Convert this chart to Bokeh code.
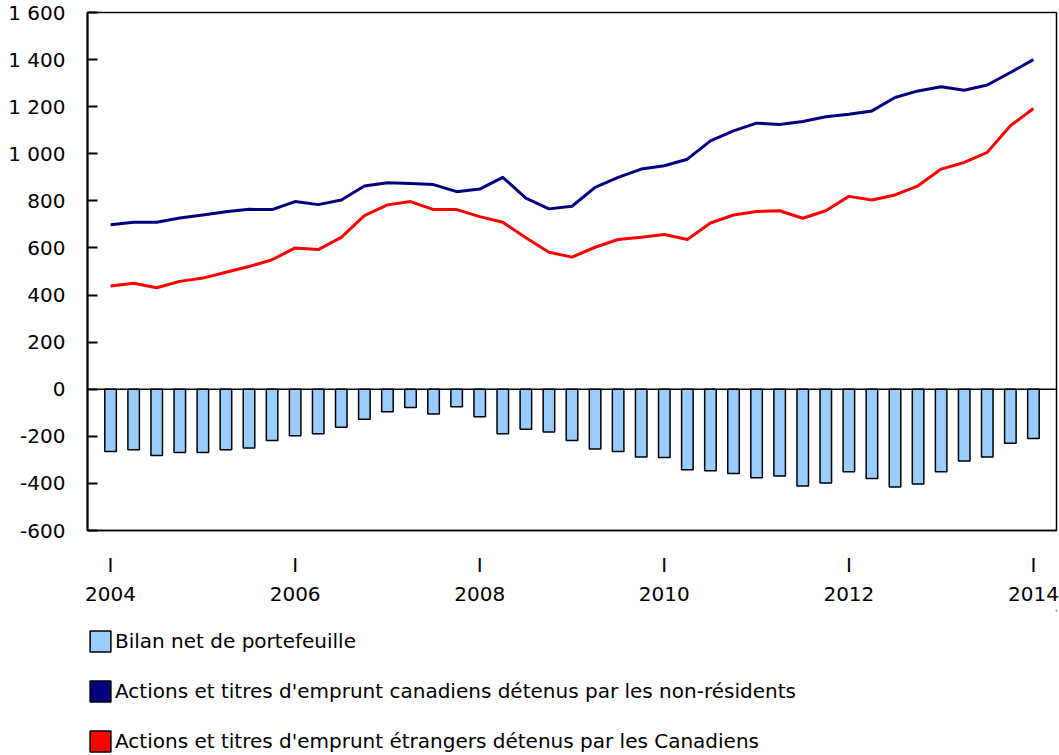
from bokeh.plotting import figure
from bokeh.models import (ColumnDataSource, FixedTicker, LinearAxis, Range1d, Span,
                          Legend, LegendItem)
from bokeh.layouts import column
from bokeh.embed import file_html
from bokeh.resources import INLINE

# Quarterly observations, 2004 Q1 ... 2014 Q1 (index 0 .. 40)
quarters = list(range(41))

bilan_net = [-264, -257, -281, -269, -269, -257, -250, -218, -198, -189, -161, -127, -96,
             -78, -105, -74, -117, -189, -170, -182, -218, -254, -264, -288, -290, -342,
             -346, -358, -376, -369, -411, -398, -350, -379, -415, -403, -350, -305, -288,
             -229, -209]

non_residents = [699, 709, 709, 727, 740, 754, 764, 763, 797, 784, 804, 863, 877,
                 874, 869, 839, 850, 900, 812, 766, 777, 857, 900, 935, 949, 977, 1055,
                 1097, 1130, 1124, 1137, 1157, 1168, 1182, 1239, 1267, 1285, 1270, 1292,
                 1345, 1400]

canadiens = [438, 450, 431, 458, 472, 497, 521, 550, 600, 593, 645, 737, 783,
             797, 763, 763, 733, 709, 643, 582, 561, 603, 636, 645, 657, 636, 706,
             740, 755, 758, 726, 758, 819, 804, 825, 864, 935, 963, 1006, 1119, 1192]

x_ticks = [0, 8, 16, 24, 32, 40]
x_quarter_labels = ["I", "I", "I", "I", "I", "I"]
x_year_labels = ["2004", "2006", "2008", "2010", "2012", "2014"]

y_ticks = [-600, -400, -200, 0, 200, 400, 600, 800, 1000, 1200, 1400, 1600]
y_tick_labels = ["-600", "-400", "-200", "0", "200", "400", "600", "800",
                 "1 000", "1 200", "1 400", "1 600"]

legend_labels = ["Bilan net de portefeuille",
                 "Actions et titres d'emprunt canadiens détenus par les non-résidents",
                 "Actions et titres d'emprunt étrangers détenus par les Canadiens"]
legend_colors = ["#99CCFF", "#000080", "#FF0000"]

FONT = "DejaVu Sans"
FS = "20px"

src = ColumnDataSource(dict(q=quarters, bilan=bilan_net, nonres=non_residents, can=canadiens))

p = figure(width=1059, height=610,
           x_range=Range1d(-1, 41), y_range=Range1d(-600, 1600),
           output_backend="svg", toolbar_location=None,
           min_border_left=87, min_border_top=12, min_border_right=3, min_border_bottom=80,
           background_fill_color="white", border_fill_color="white")
p.grid.visible = False
p.outline_line_color = "black"
p.outline_line_width = 1.5

# y axis
ya = p.yaxis[0]
ya.ticker = FixedTicker(ticks=y_ticks)
ya.major_label_overrides = {t: l for t, l in zip(y_ticks, y_tick_labels)}
ya.major_tick_in = 10
ya.major_tick_out = 0
ya.minor_tick_line_color = None
ya.axis_line_width = 2
ya.major_tick_line_width = 2
ya.major_label_text_font = FONT
ya.major_label_text_font_size = FS
ya.major_label_text_color = "black"
ya.major_label_standoff = 22

# x axis: quarter marker row
xa = p.xaxis[0]
xa.ticker = FixedTicker(ticks=x_ticks)
xa.major_label_overrides = {t: l for t, l in zip(x_ticks, x_quarter_labels)}
xa.major_tick_in = 0
xa.major_tick_out = 0
xa.major_tick_line_color = None
xa.minor_tick_line_color = None
xa.axis_line_width = 1.5
xa.major_label_text_font = FONT
xa.major_label_text_font_size = FS
xa.major_label_text_color = "black"
xa.major_label_standoff = 22

# x axis: year row
xa2 = LinearAxis(ticker=FixedTicker(ticks=x_ticks),
                 major_label_overrides={t: l for t, l in zip(x_ticks, x_year_labels)},
                 axis_line_color=None, major_tick_line_color=None, minor_tick_line_color=None,
                 major_tick_in=0, major_tick_out=0,
                 major_label_text_font=FONT, major_label_text_font_size=FS,
                 major_label_text_color="black", major_label_standoff=7)
p.add_layout(xa2, "below")

p.add_layout(Span(location=0, dimension="width", line_color="black", line_width=1.5))

r_bar = p.vbar(x="q", top="bilan", bottom=0, width=0.5, source=src,
               fill_color=legend_colors[0], line_color="black", line_width=1.5)
r_nr = p.line(x="q", y="nonres", source=src, line_color=legend_colors[1], line_width=3,
              line_join="round")
r_ca = p.line(x="q", y="can", source=src, line_color=legend_colors[2], line_width=3,
              line_join="round")

# ---- legend panel (separate figure; its frame is aligned with the chart's frame) ----
lg = figure(width=1059, height=145, x_range=Range1d(0, 1), y_range=Range1d(0, 1),
            output_backend="svg", toolbar_location=None,
            x_axis_location=None, y_axis_location=None,
            min_border=0, min_border_left=0, min_border_right=0,
            min_border_top=0, min_border_bottom=0,
            background_fill_color="white", border_fill_color="white")
lg.grid.visible = False
lg.outline_line_color = None

# swatch renderers: zero-height bars placed outside the visible range (legend only)
swatches = [lg.vbar(x=[5], top=[5], bottom=[5], width=0.5, fill_color=c,
                    line_color="black", line_width=1.5)
            for c in legend_colors]

legend = Legend(items=[LegendItem(label=lab, renderers=[r])
                       for lab, r in zip(legend_labels, swatches)],
                location=(0, 1), orientation="vertical",
                glyph_width=26, glyph_height=26, label_height=26, spacing=24,
                padding=0, margin=0, label_standoff=2,
                label_text_font=FONT, label_text_font_size=FS, label_text_color="black",
                border_line_color=None, background_fill_alpha=0)
lg.add_layout(legend, "center")

open("out.html", "w").write(file_html(column(p, lg, spacing=0), INLINE))
